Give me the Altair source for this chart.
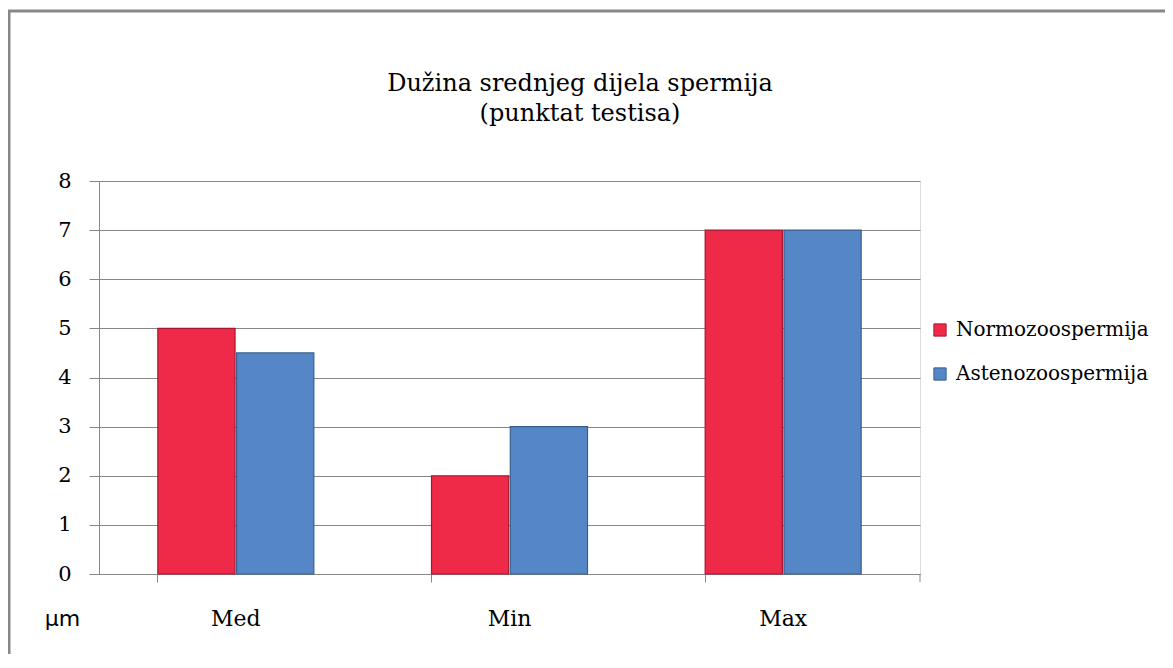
import altair as alt
import pandas as pd

categories = ["Med", "Min", "Max"]
series = ["Normozoospermija", "Astenozoospermija"]
normo = [5.0, 2.0, 7.0]
asteno = [4.5, 3.0, 7.0]
y_ticks = [0, 1, 2, 3, 4, 5, 6, 7, 8]
title_lines = ["Dužina srednjeg dijela  spermija", "(punktat testisa)"]

rows = []
for i, c in enumerate(categories):
    rows.append({"cat": c, "series": series[0], "value": normo[i]})
    rows.append({"cat": c, "series": series[1], "value": asteno[i]})
df = pd.DataFrame(rows)
one = pd.DataFrame({"a": [0]})

W, H = 821, 393
GRAY = "#878787"
SERIF = "DejaVu Serif"

bars = alt.Chart(df).mark_bar(strokeWidth=1.2).encode(
    x=alt.X(
        "cat:N", sort=categories, title=None,
        scale=alt.Scale(paddingInner=0.43, paddingOuter=0.215),
        axis=alt.Axis(
            labelAngle=0, labelFont=SERIF, labelFontSize=22, labelColor="#000",
            labelPadding=26, tickSize=8, tickColor=GRAY, domainColor=GRAY,
            bandPosition=0, grid=False,
        ),
    ),
    xOffset=alt.XOffset("series:N", sort=series, scale=alt.Scale(paddingInner=0.02)),
    y=alt.Y(
        "value:Q", title="µm",
        scale=alt.Scale(domain=[0, 8]),
        axis=alt.Axis(
            values=y_ticks, grid=True, gridColor=GRAY, domainColor=GRAY,
            tickColor=GRAY, tickSize=10, labelFont=SERIF, labelFontSize=21,
            labelColor="#000", labelPadding=18,
            titleAngle=0, titleX=-37, titleY=437, titleAlign="center",
            titleBaseline="middle", titleFont="DejaVu Sans", titleFontSize=22,
            titleFontWeight="normal", titleColor="#000",
        ),
    ),
    color=alt.Color(
        "series:N", sort=series,
        scale=alt.Scale(domain=series, range=["#EE2A48", "#5587C6"]),
        legend=alt.Legend(
            title=None, orient="none", legendX=831, legendY=139,
            symbolType="square", symbolSize=150, labelFont=SERIF,
            labelFontSize=20, labelColor="#000", rowPadding=24, labelOffset=6,
            symbolStrokeWidth=1, labelLimit=400,
        ),
    ),
    stroke=alt.Stroke(
        "series:N", sort=series,
        scale=alt.Scale(domain=series, range=["#A8162E", "#385E8E"]),
        legend=None,
    ),
)

last_tick = alt.Chart(one).mark_rule(color=GRAY, strokeWidth=1).encode(
    x=alt.value(W), y=alt.value(H), y2=alt.value(H + 8)
)

frame = alt.Chart(one).mark_rect(
    fillOpacity=0, stroke=GRAY, strokeWidth=3, clip=False
).encode(
    x=alt.value(-90), x2=alt.value(1200), y=alt.value(-170), y2=alt.value(900)
)

title = alt.Chart(one).mark_text(
    text=title_lines, font=SERIF, fontSize=24, color="#000",
    align="center", baseline="top", lineHeight=30,
).encode(x=alt.value(481), y=alt.value(-109))

chart = alt.layer(frame, bars, last_tick, title).properties(
    width=W, height=H,
    autosize=alt.AutoSizeParams(type="none"),
    padding={"left": 91, "top": 173, "right": 245, "bottom": 80},
).configure_view(stroke=None).configure(background="white")

chart.save("out.html", embed_options={"renderer": "svg", "actions": False})
